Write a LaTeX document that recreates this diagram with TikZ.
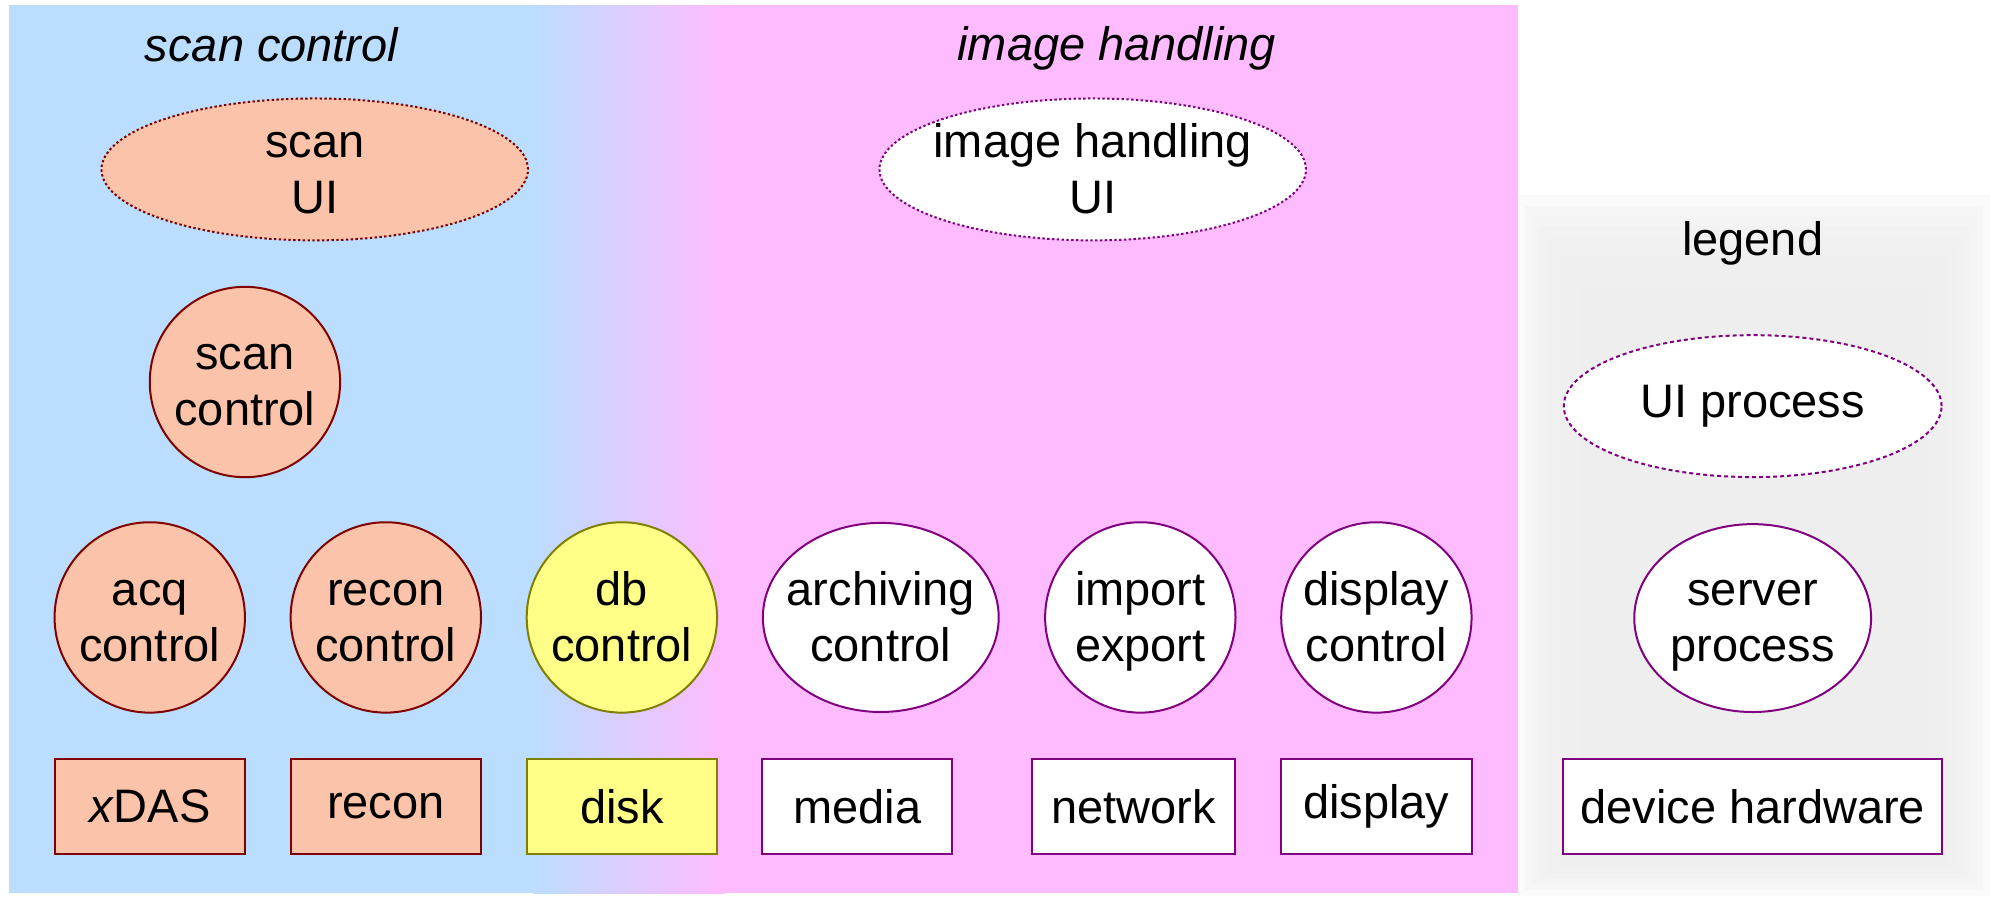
\documentclass[tikz,border=0pt]{standalone}
\usepackage{fontspec}
\setmainfont{Liberation Sans}
\usepackage{xcolor}
\usepackage{tikz}
\usetikzlibrary{shapes.geometric}
\definecolor{scanblue}{RGB}{187, 221, 255}
\definecolor{imgpink}{RGB}{255, 187, 255}
\definecolor{salmon}{RGB}{251, 196, 170}
\definecolor{darkred}{RGB}{128, 0, 0}
\definecolor{dbyellow}{RGB}{255, 255, 136}
\definecolor{dbolive}{RGB}{128, 128, 0}
\definecolor{ihpurple}{RGB}{128, 0, 128}
\newcommand{\twolines}[2]{\rule{0pt}{24pt}#1\\#2\strut}

\begin{document}
\begin{tikzpicture}[x=0.635pt,y=-0.635pt,
    txt/.style={font=\fontsize{23.5}{28}\selectfont, align=center},
    title/.style={font=\fontsize{23.5}{28}\selectfont\itshape, anchor=base},
    proc/.style={txt, ellipse, draw, line width=1pt, inner xsep=-8pt, inner ysep=-6pt,
      minimum width=95.25pt, minimum height=95.25pt},
    dev/.style={txt, rectangle, draw, line width=1pt, inner sep=0pt,
      minimum width=95.25pt, minimum height=47.6pt},
    ui/.style={minimum width=213.4pt, minimum height=71pt, dash pattern=on 1.2pt off 1.2pt},
    scanpart/.style={fill=salmon, draw=darkred},
    dbpart/.style={fill=dbyellow, draw=dbolive},
    imgpart/.style={fill=white, draw=ihpurple}]
  \useasboundingbox (0,0) rectangle (1568,706);

  % backgrounds
  \fill[scanblue] (7,4) rectangle (421,704);
  \shade[left color=scanblue, right color=imgpink] (420,4) rectangle (571,704);
  \fill[imgpink] (570,4) rectangle (1196,704);
  \foreach \i in {0,...,11}
    \fill[gray!13, opacity=0.3] ({1196+5.5*\i},{154+8*\i}) rectangle ({1568-5.5*\i},{706-4.5*\i});

  \node[title] (scantitle) at (214,48.6) {scan control};
  \node[title] (imgtitle) at (880,47.3) {image handling};
  \node[font=\fontsize{23.5}{28}\selectfont, anchor=base] (legtitle) at (1381,201.7) {legend};

  % user interfaces
  \node[proc, ui, scanpart] (scanui) at (248,133.5) {\twolines{scan}{UI}};
  \node[proc, ui, imgpart] (imgui) at (861,133.5) {\twolines{image handling}{UI}};
  \node[proc, imgpart, minimum width=189pt, minimum height=71pt,
    dash pattern=on 2pt off 1.5pt] (legui) at (1381,320) {UI process};

  % servers
  \node[proc, scanpart] (scanctl) at (193,301) {\twolines{scan}{control}};
  \node[proc, scanpart] (acqctl) at (118,486.5) {\twolines{acq}{control}};
  \node[proc, scanpart] (reconctl) at (304,486.5) {\twolines{recon}{control}};
  \node[proc, dbpart] (dbctl) at (490,486.5) {\twolines{db}{control}};
  \node[proc, imgpart, minimum width=118pt, minimum height=94.6pt] (archctl) at (694,486.5) {\twolines{archiving}{control}};
  \node[proc, imgpart] (impexp) at (898.5,486.5) {\twolines{import}{export}};
  \node[proc, imgpart] (dispctl) at (1084.5,486.5) {\twolines{display}{control}};
  \node[proc, imgpart, minimum width=118.5pt, minimum height=94pt] (legserver) at (1381,487) {\twolines{server}{process}};

  % hardware
  \node[dev, scanpart] (xdas) at (118,635.5) {\textit{x}DAS};
  \node[dev, scanpart] (recon) at (304,635.5) {recon};
  \node[dev, dbpart] (disk) at (490,635.5) {disk};
  \node[dev, imgpart] (media) at (675.5,635.5) {media};
  \node[dev, imgpart, minimum width=101.6pt] (network) at (893,635.5) {network};
  \node[dev, imgpart] (display) at (1084.5,635.5) {display};
  \node[dev, imgpart, minimum width=189.5pt] (leghw) at (1381,635.7) {device hardware};
\end{tikzpicture}
\end{document}
